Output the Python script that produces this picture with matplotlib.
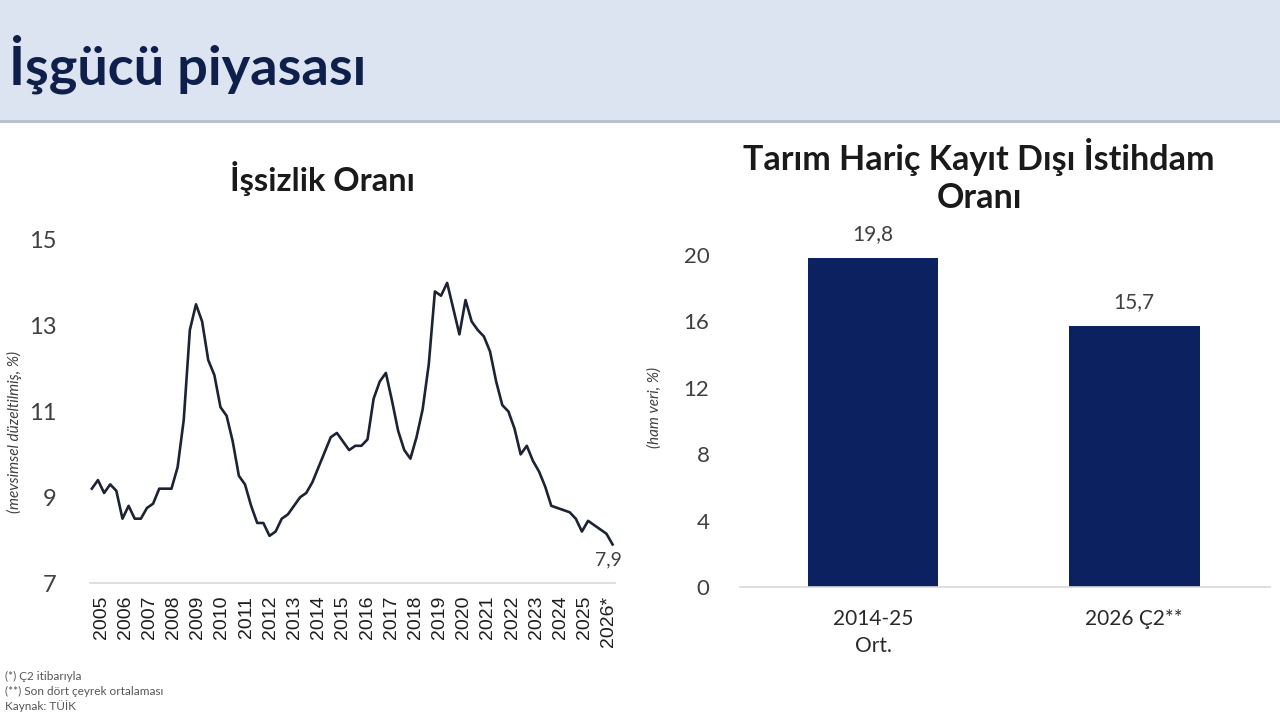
import numpy as np
import matplotlib.pyplot as plt
from matplotlib.patches import Rectangle

# İşsizlik oranı, çeyreklik, 2005 Ç1 - 2026 Ç2 (mevsimsel düzeltilmiş, %)
unemployment = [
    9.2, 9.4, 9.1, 9.3,
    9.15, 8.5, 8.8, 8.5,
    8.5, 8.75, 8.85, 9.2,
    9.2, 9.2, 9.7, 10.8,
    12.9, 13.5, 13.1, 12.2,
    11.85, 11.1, 10.9, 10.3,
    9.5, 9.3, 8.8, 8.4,
    8.4, 8.1, 8.2, 8.5,
    8.6, 8.8, 9.0, 9.1,
    9.35, 9.7, 10.05, 10.4,
    10.5, 10.3, 10.1, 10.2,
    10.2, 10.35, 11.3, 11.7,
    11.9, 11.25, 10.55, 10.1,
    9.9, 10.4, 11.05, 12.1,
    13.8, 13.7, 14.0, 13.4,
    12.8, 13.6, 13.1, 12.9,
    12.75, 12.4, 11.7, 11.15,
    11.0, 10.6, 10.0, 10.2,
    9.85, 9.6, 9.25, 8.8,
    8.75, 8.7, 8.65, 8.5,
    8.2, 8.45, 8.35, 8.25,
    8.15, 7.9,
]
year_labels = [str(y) for y in range(2005, 2026)] + ["2026*"]

# Tarım hariç kayıt dışı istihdam oranı (ham veri, %)
bar_cats = ["2014-25\nOrt.", "2026 Ç2**"]
bar_vals = [19.8, 15.7]

NAVY = "#0b2160"
TXT = "#404040"
FONT = "Lato"

plt.rcParams["font.family"] = [FONT, "DejaVu Sans"]

fig = plt.figure(figsize=(12.8, 7.2), dpi=100)
fig.patch.set_facecolor("white")

# header band
fig.patches.append(Rectangle((0, 1 - 120 / 720), 1, 120 / 720, transform=fig.transFigure,
                             facecolor="#dbe4f0", edgecolor="none", zorder=0))
fig.patches.append(Rectangle((0, 1 - 123 / 720), 1, 3 / 720, transform=fig.transFigure,
                             facecolor="#b9c1cc", edgecolor="none", zorder=0))
fig.text(9 / 1280, 1 - 64 / 720, "İşgücü piyasası", fontsize=39, fontweight="bold",
         color="#0f1f4b", va="center", ha="left")

# ---- left: unemployment line ----
ax1 = fig.add_axes([90 / 1280, 1 - 583 / 720, 525 / 1280, 343 / 720])
x = np.arange(len(unemployment))
ax1.plot(x, unemployment, color="#1c2333", lw=1.9)
ax1.set_xlim(-0.3, 85.4)
ax1.set_ylim(7, 15)
ax1.set_yticks([7, 9, 11, 13, 15])
# year labels spread evenly along the axis, one per year
ax1.set_xticks(np.linspace(1.5, 84.4, len(year_labels)))
ax1.set_xticklabels(year_labels, rotation=90, fontsize=14, color="#1e1e1e")
for t in ax1.get_xticklabels():
    t.set_fontfamily(["Liberation Sans", "DejaVu Sans"])
for s in ["top", "right", "left"]:
    ax1.spines[s].set_visible(False)
ax1.spines["bottom"].set_color("#d9d9d9")
ax1.spines["bottom"].set_linewidth(1.2)
ax1.tick_params(axis="y", length=0, pad=24, labelsize=17, labelcolor=TXT)
ax1.tick_params(axis="x", length=0, pad=9)
ax1.set_ylabel("(mevsimsel düzeltilmiş, %)", fontstyle="italic", fontsize=11,
               color=TXT, labelpad=10)
ax1.yaxis.set_label_coords(-0.13, 0.44)
ax1.annotate(f"{unemployment[-1]:.1f}".replace(".", ","), (x[-1], unemployment[-1]),
             xytext=(-3, -5), textcoords="offset points", ha="center", va="top",
             fontsize=14, color=TXT)
fig.text(322 / 1280, 1 - 178 / 720, "İşsizlik Oranı", fontsize=23.5, fontweight="bold",
         color="#1a1a1a", ha="center", va="center")

# ---- right: informal employment bars ----
ax2 = fig.add_axes([740 / 1280, 1 - 587 / 720, 530 / 1280, 332 / 720])
bx = np.arange(len(bar_vals))
bars = ax2.bar(bx, bar_vals, width=0.5, color=NAVY)
ax2.set_xlim(-0.51, 1.52)
ax2.set_ylim(0, 20)
ax2.set_yticks([0, 4, 8, 12, 16, 20])
ax2.set_xticks(bx)
ax2.set_xticklabels(bar_cats, fontsize=15, color="#2a2a2a", linespacing=1.45)
for s in ["top", "right", "left"]:
    ax2.spines[s].set_visible(False)
ax2.spines["bottom"].set_color("#d9d9d9")
ax2.spines["bottom"].set_linewidth(1.2)
ax2.tick_params(axis="y", length=0, pad=22, labelsize=16, labelcolor=TXT)
ax2.tick_params(axis="x", length=0, pad=16)
ax2.set_ylabel("(ham veri, %)", fontstyle="italic", fontsize=11, color=TXT)
ax2.yaxis.set_label_coords(-0.147, 0.54)
for b, v in zip(bars, bar_vals):
    ax2.annotate(f"{v:.1f}".replace(".", ","), (b.get_x() + b.get_width() / 2, v),
                 xytext=(0, 10), textcoords="offset points", ha="center", va="bottom",
                 fontsize=15, color=TXT)
fig.text(979 / 1280, 1 - 176 / 720, "Tarım Hariç Kayıt Dışı İstihdam\nOranı", fontsize=24.5,
         fontweight="bold", color="#1a1a1a", ha="center", va="center", linespacing=1.25)

# footnotes
notes = ["(*) Ç2 itibarıyla", "(**) Son dört çeyrek ortalaması", "Kaynak: TÜİK"]
for i, n in enumerate(notes):
    fig.text(5 / 1280, 1 - (676 + 15 * i) / 720, n, fontsize=8.5, color="#555555",
             ha="left", va="center")

fig.savefig("out.png", dpi=100)
